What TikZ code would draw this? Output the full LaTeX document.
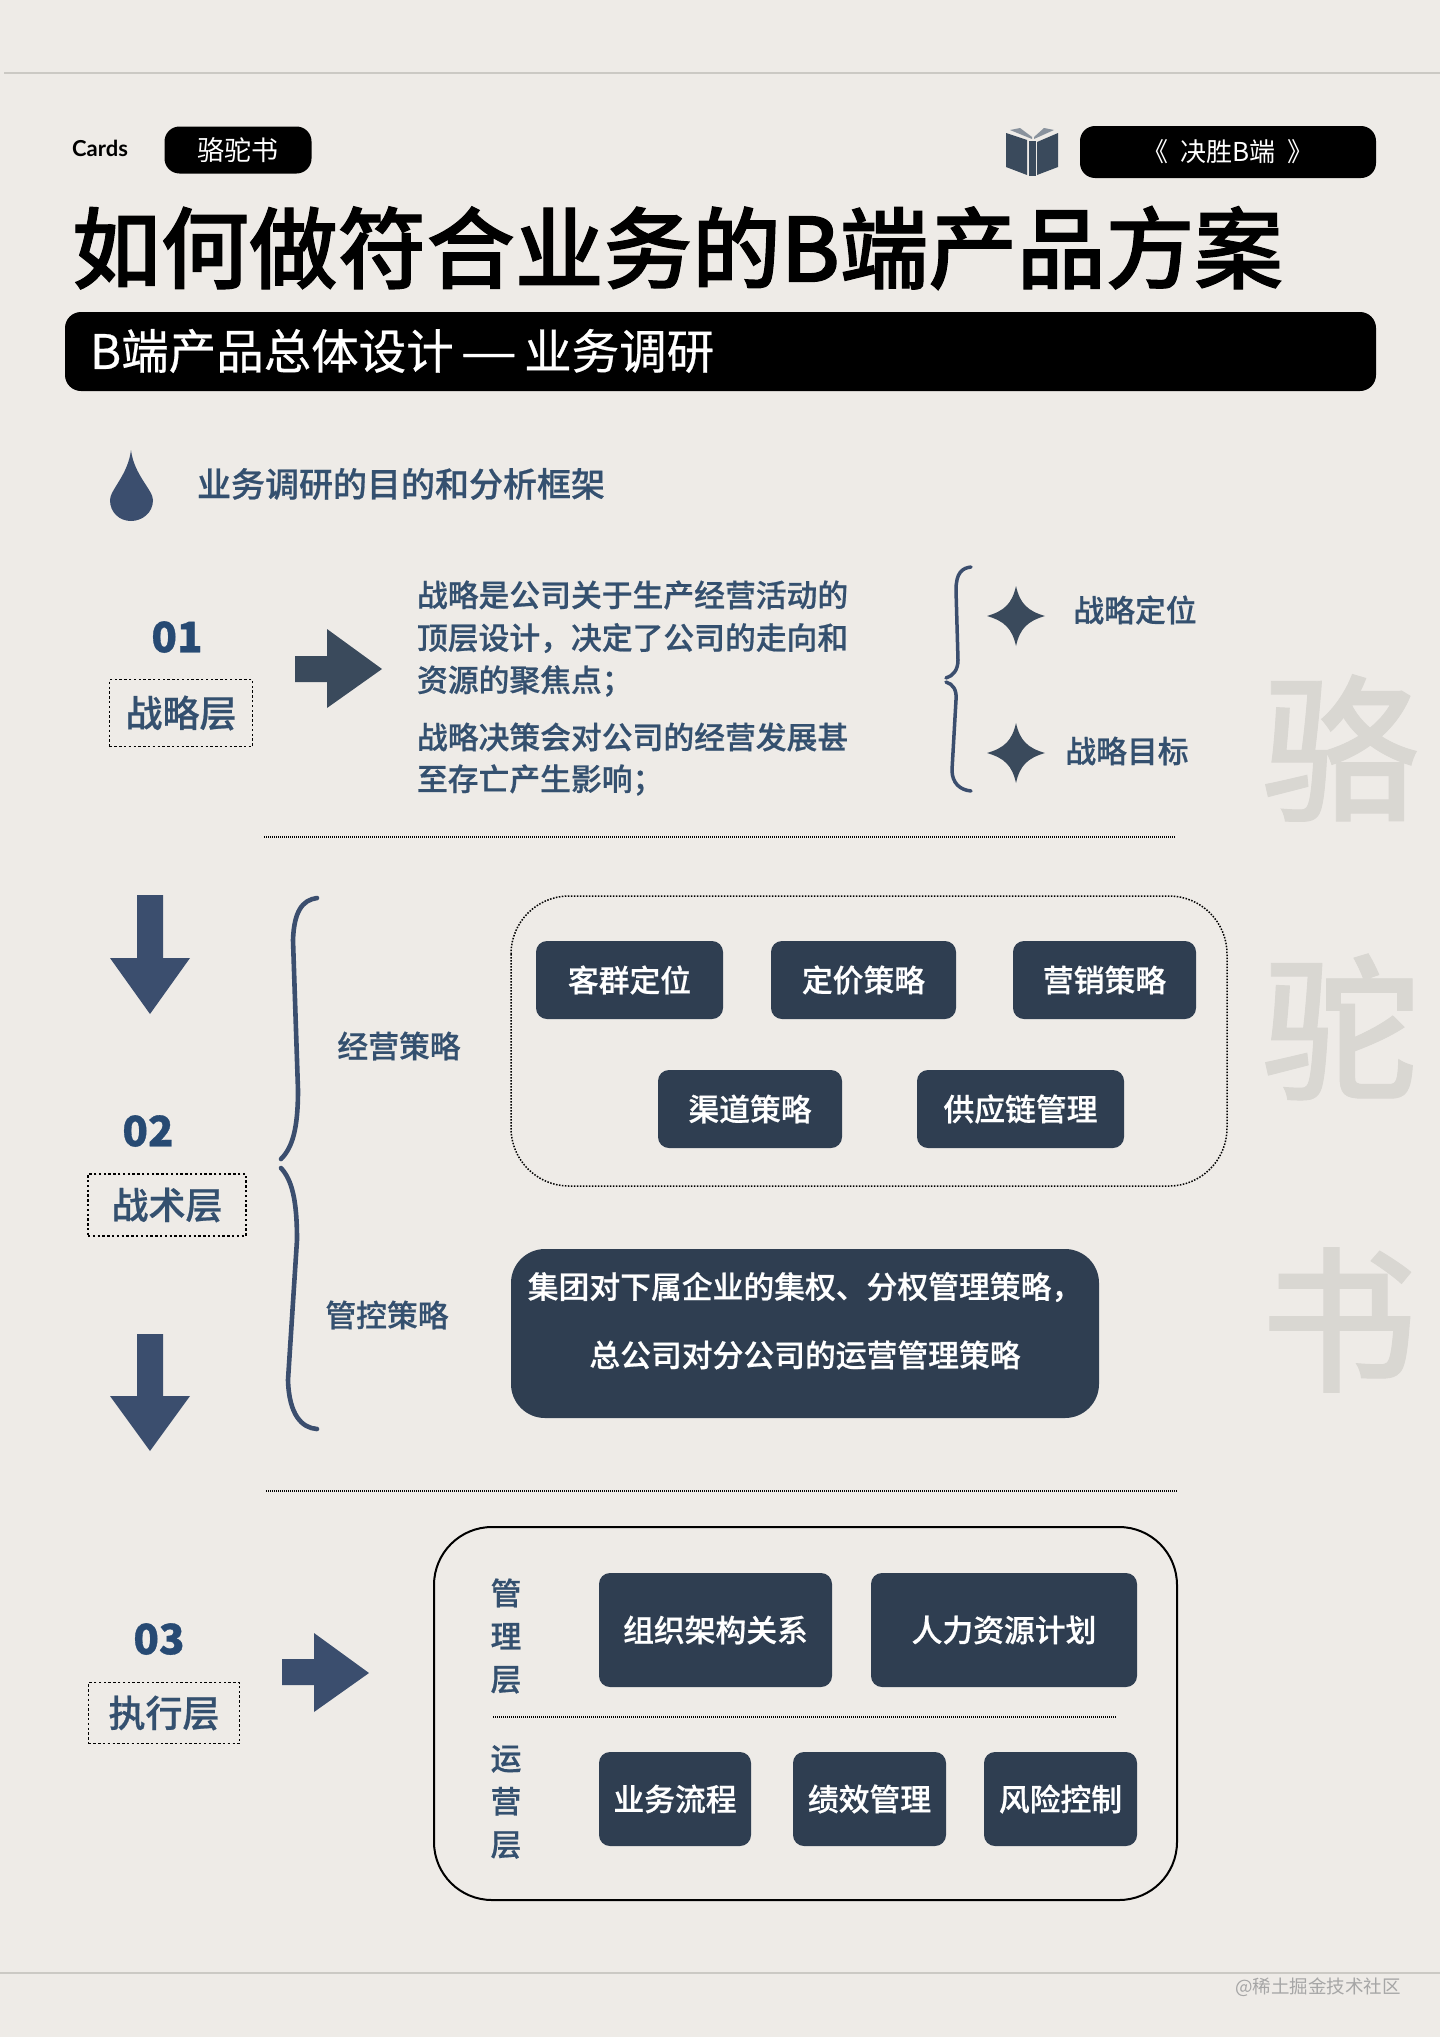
\documentclass[tikz,border=0pt]{standalone}
\usepackage{fontspec}
\usepackage{graphicx}
\setmainfont{Noto Sans CJK SC}
\newfontfamily\medfont[FakeBold=0.6]{Noto Sans CJK SC Medium}
\newfontfamily\titlefont[FakeBold=1.2]{Noto Sans CJK SC Medium}
\newfontfamily\barfont[FakeBold=0.5]{Noto Sans CJK SC}
\newfontfamily\blackfont[FakeBold=0.8]{Noto Sans CJK SC Black}
\newfontfamily\cardsfont{Lato}
\usetikzlibrary{positioning}
\definecolor{paper}{HTML}{EEEBE7}
\definecolor{ink}{HTML}{2F3E51}
\definecolor{slate}{HTML}{3A4A5C}
\definecolor{navy}{HTML}{3B4E6E}
\definecolor{labelblue}{HTML}{34506F}
\definecolor{numblue}{HTML}{274A73}
\definecolor{ghost}{HTML}{D9D7D2}
\definecolor{rulegrey}{HTML}{CBC9C4}
\newcommand{\fs}[1]{\fontsize{#1}{#1}\selectfont}
\begin{document}
\begin{tikzpicture}[x=1pt, y=-1pt, node distance=40pt,
  every node/.style={inner sep=0pt, outer sep=0pt},
  pill/.style={fill=black, text=white, rounded corners=15pt},
  labeltext/.style={font={\fs{30.8}\medfont}, text=labelblue},
  numtext/.style={font={\fs{42}\blackfont}, text=numblue},
  layerbox/.style={draw=black, line width=1.4pt, dash pattern=on 2.4pt off 2.4pt,
    font={\fs{37}\medfont}, text=labelblue},
  darkbox/.style={fill=ink, text=white, rounded corners=11pt, font={\fs{30.8}\medfont}},
  ghosttext/.style={font={\fs{157}\medfont}, text=ghost},
  blockarrow/.style={fill=navy},
  dotline/.style={black, line width=1.3pt, dash pattern=on 1pt off 1pt},
  bracepath/.style={draw=navy, line width=3.5pt, line cap=round}]
\useasboundingbox (0,0) rectangle (1440,2037);
\fill[paper] (0,0) rectangle (1440,2037);
\draw[rulegrey, line width=2.5pt] (4,73) -- (1440,73);
\draw[rulegrey, line width=2.5pt] (0,1973) -- (1440,1973);
% header
\node (cards) at (100,148) {\cardsfont\fs{22}\bfseries Cards};
\node[pill, minimum width=147pt, minimum height=47pt, font=\fs{27}] (camel) at (238,150) {骆驼书};
\node[pill, minimum width=296pt, minimum height=52pt, font=\fs{26}] (book) at (1228,152) {《\ \ 决胜B端\ \ 》};
\fill[slate] (1006,133) -- (1027,140) -- (1027,175) -- (1006,167) -- cycle;
\fill[slate] (1029,141) -- (1036,141) -- (1036,176) -- (1029,176) -- cycle;
\fill[slate] (1058,133) -- (1037,142) -- (1037,175) -- (1058,167) -- cycle;
\fill[slate!60] (1010,130) -- (1020,128) -- (1032,137) -- (1032,139) -- cycle;
\fill[slate!60] (1054,130) -- (1044,128) -- (1034,137) -- (1034,139) -- cycle;
\node[anchor=west, font={\fs{88.6}\titlefont}] (title) at (72,248) {如何做符合业务的B端产品方案};
\node[pill, minimum width=1311pt, minimum height=79pt, rounded corners=16pt] (subbar) at (720.5,351.5) {};
\node[anchor=west, text=white, font={\fs{47.5}\barfont}] (subtitle) at (90,351) {B端产品总体设计\hspace{7pt}\scalebox{1.33}[1]{—}\hspace{7pt}业务调研};
% intro
\fill[navy] (131,450) .. controls (128,475) and (110,490) .. (110,500)
  .. controls (110,513) and (120,521) .. (131,521)
  .. controls (142,521) and (153,513) .. (153,500)
  .. controls (153,490) and (134,475) .. (131,450) -- cycle;
\node[anchor=west, font={\fs{34}\medfont}, text=labelblue] (intro) at (197,484) {业务调研的目的和分析框架};
% layer 01
\node[numtext] (num1) at (177,637) {01};
\node[layerbox, minimum width=143pt, minimum height=67pt] (strategy) at (181,713) {战略层};
\fill[slate] (295,656) -- (327,656) -- (327,629) -- (382,669) -- (327,708) -- (327,682) -- (295,682) -- cycle;
\node[labeltext, anchor=west] (para1) at (417,595) {战略是公司关于生产经营活动的};
\node[labeltext, anchor=west] (para2) at (417,638) {顶层设计，决定了公司的走向和};
\node[labeltext, anchor=west] (para3) at (417,681) {资源的聚焦点；};
\node[labeltext, anchor=west] (para4) at (417,737) {战略决策会对公司的经营发展甚};
\node[labeltext, anchor=west] (para5) at (417,780) {至存亡产生影响；};
\draw[bracepath] (971,567) .. controls (962,568) and (956,573) .. (956,590) -- (958,660)
  .. controls (958,670) and (953,676) .. (946,678);
\draw[bracepath] (946,682) .. controls (953,684) and (957,690) .. (956,700) -- (952,770)
  .. controls (952,783) and (960,790) .. (971,791);
\foreach \sy in {616,753}
  \fill[slate] (1016,\sy-30) .. controls (1020,\sy-12) and (1028,\sy-5) .. (1045,\sy)
    .. controls (1028,\sy+5) and (1020,\sy+12) .. (1016,\sy+30)
    .. controls (1012,\sy+12) and (1004,\sy+5) .. (987,\sy)
    .. controls (1004,\sy-5) and (1012,\sy-12) .. (1016,\sy-30) -- cycle;
\node[labeltext] (pos) at (1135,610) {战略定位};
\node[labeltext] (goal) at (1127,751) {战略目标};
\draw[dotline] (264,837) -- (1175,837);
\node[ghosttext] (ghosta) at (1340,748) {骆};
\node[ghosttext] (ghostb) at (1340,1027) {驼};
\node[ghosttext] (ghostc) at (1339,1320) {书};
% layer 02
\fill[blockarrow] (137,895) -- (163,895) -- (163,958) -- (190,958) -- (150,1014) -- (110,958) -- (137,958) -- cycle;
\fill[blockarrow] (137,1334) -- (163,1334) -- (163,1396) -- (190,1396) -- (150,1451) -- (110,1396) -- (137,1396) -- cycle;
\node[numtext] (num2) at (148,1131) {02};
\node[layerbox, minimum width=158pt, minimum height=62pt] (tactic) at (167,1205) {战术层};
\draw[bracepath, line width=4.6pt] (317,898) .. controls (302,900) and (294,912) .. (293,940) -- (298,1090)
  .. controls (298,1130) and (292,1148) .. (281,1159);
\draw[bracepath, line width=4.6pt] (281,1168) .. controls (292,1180) and (297,1200) .. (297,1240) -- (288,1380)
  .. controls (289,1415) and (302,1428) .. (317,1429);
\node[labeltext] (ops) at (399,1046) {经营策略};
\node[labeltext] (ctrl) at (387,1315) {管控策略};
\draw[black, line width=1.5pt, dash pattern=on 1.5pt off 1.5pt, rounded corners=58pt] (511,896) rectangle (1227,1186);
\node[darkbox, minimum width=187pt, minimum height=78pt] (cust) at (629.5,980) {客群定位};
\node[darkbox, minimum width=185pt, minimum height=78pt, right=48pt of cust] (price) {定价策略};
\node[darkbox, minimum width=183pt, minimum height=78pt, right=57pt of price] (market) {营销策略};
\node[darkbox, minimum width=184pt, minimum height=78pt] (channel) at (750,1109) {渠道策略};
\node[darkbox, minimum width=207pt, minimum height=78pt, right=75pt of channel] (supply) {供应链管理};
\node[darkbox, rounded corners=34pt, minimum width=588pt, minimum height=169pt] (group) at (805,1333.5) {};
\node[labeltext, text=white] (groupa) at (805,1287) {集团对下属企业的集权、分权管理策略，};
\node[labeltext, text=white] (groupb) at (805,1355) {总公司对分公司的运营管理策略};
\draw[dotline] (266,1491) -- (1178,1491);
% layer 03
\node[numtext] (num3) at (159,1639) {03};
\node[layerbox, minimum width=151pt, minimum height=61pt] (exec) at (164,1713) {执行层};
\fill[blockarrow] (282,1659) -- (314,1659) -- (314,1633) -- (369,1673) -- (314,1712) -- (314,1685) -- (282,1685) -- cycle;
\draw[black, line width=2pt, rounded corners=58pt] (434,1527) rectangle (1177,1900);
\node[labeltext, align=center, font={\fontsize{30.8}{43}\selectfont\medfont}] (mgmt) at (506,1636) {管\\理\\层};
\node[labeltext, align=center, font={\fontsize{30.8}{43}\selectfont\medfont}] (run) at (506,1802) {运\\营\\层};
\node[darkbox, minimum width=233pt, minimum height=114pt] (org) at (715.5,1630) {组织架构关系};
\node[darkbox, minimum width=266pt, minimum height=114pt, right=39pt of org] (staff) {人力资源计划};
\draw[dotline] (493,1717) -- (1117,1717);
\node[darkbox, minimum width=152pt, minimum height=94pt] (flow) at (675,1799) {业务流程};
\node[darkbox, minimum width=153pt, minimum height=94pt, right=42pt of flow] (perf) {绩效管理};
\node[darkbox, minimum width=153pt, minimum height=94pt, right=38pt of perf] (risk) {风险控制};
\node[text=black!35, font=\fs{18.5}] (mark) at (1318,1987) {@稀土掘金技术社区};
\end{tikzpicture}
\end{document}
